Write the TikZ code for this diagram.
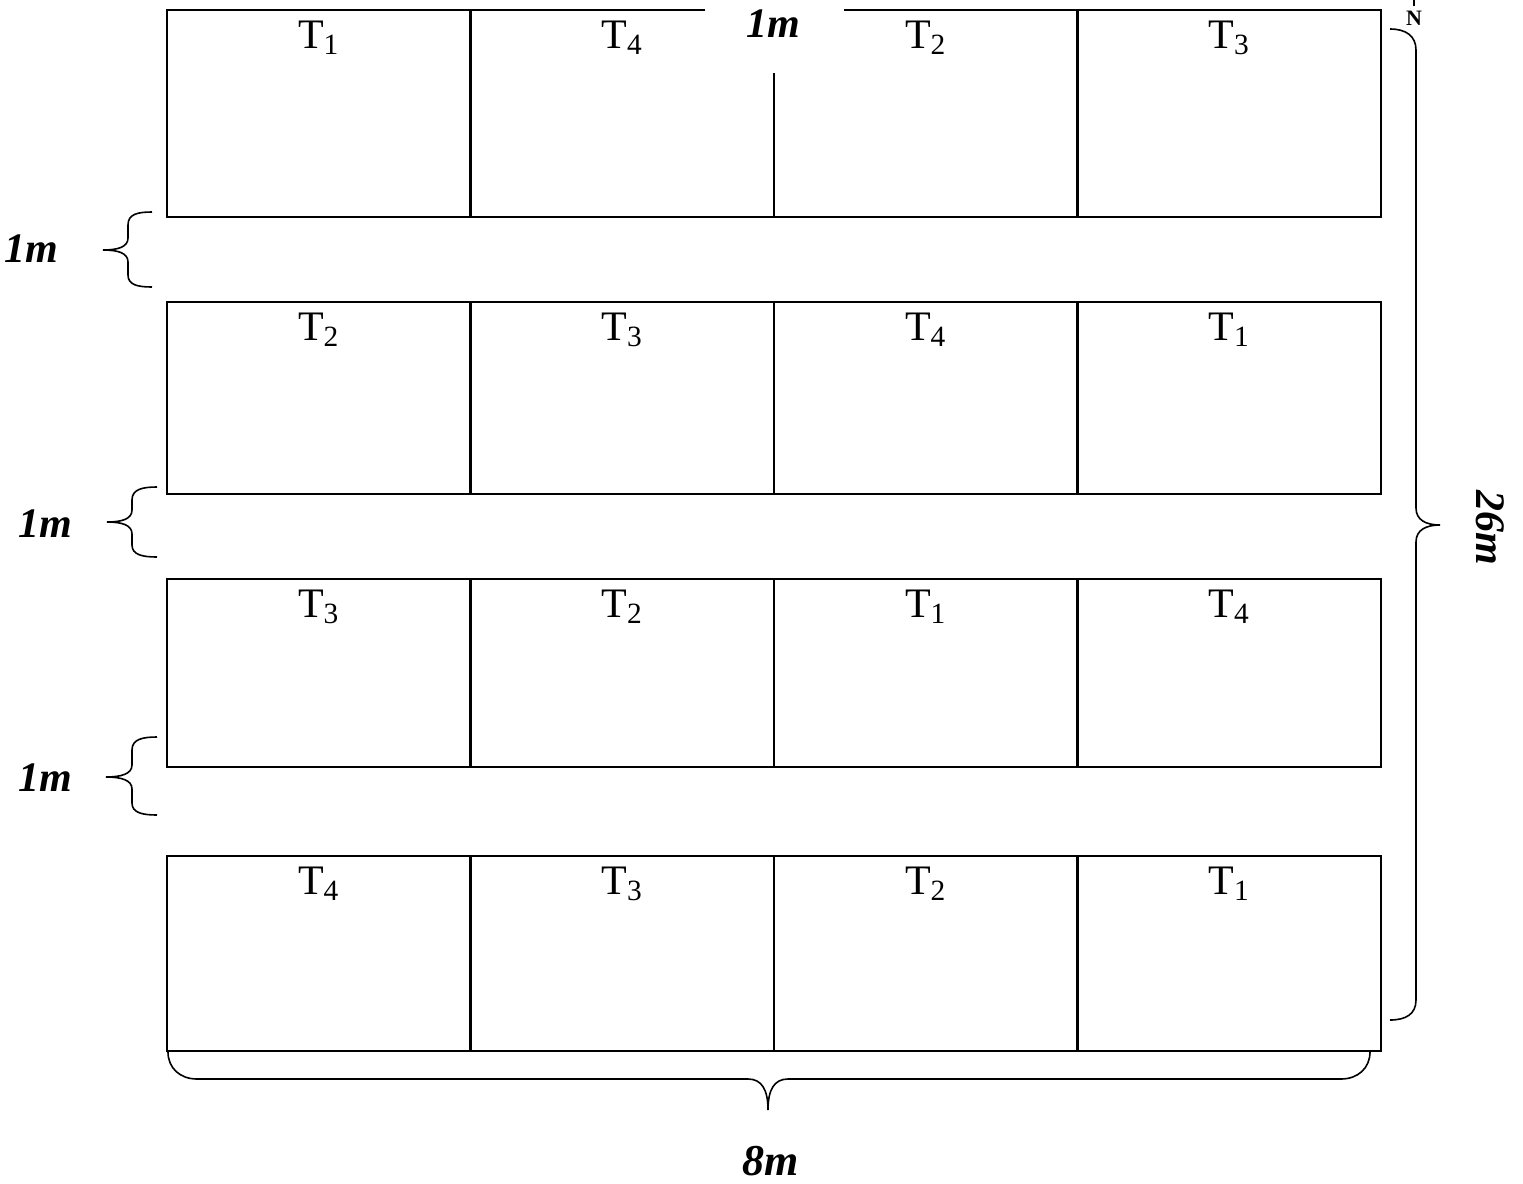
\documentclass[tikz,border=0pt]{standalone}
\usepackage{fontspec}
\setmainfont{Liberation Serif}
\begin{document}
\begin{tikzpicture}[x=0.5pt,y=-0.5pt,
  cell/.style={draw, line width=1.2pt, rectangle, minimum width=151.75pt, inner sep=0pt, outer sep=0pt},
  tlab/.style={font=\fontsize{21}{25}\selectfont, inner sep=0pt, anchor=base},
  dimlab/.style={font=\fontsize{21}{25}\selectfont\bfseries\itshape, inner sep=0pt},
  bracepath/.style={line width=0.8pt}]
\useasboundingbox (0,0) rectangle (1523,1184);
% plots
\foreach \r/\top/\bot/\labs in {1/10/217/{1,4,2,3}, 2/302/494/{2,3,4,1}, 3/579/767/{3,2,1,4}, 4/856/1051/{4,3,2,1}}{
  \foreach \t [count=\c] in \labs {
    \node[cell, minimum height={(\bot-\top)*0.5pt}] (r\r c\c) at ({167+(\c-0.5)*303.5},{(\top+\bot)/2}) {};
    \node[tlab] (t\r c\c) at ({167+(\c-0.5)*303.5},{\top+38}) {T\textsubscript{\t}};
  }
}
% top 1m label covering the border
\fill[white] (705,-2) rectangle (844,73);
\node[dimlab] (dtop) at (773,24) {1m};
% north mark
\draw[line width=0.6pt] (1414,0) -- (1414,6);
\node[font=\fontsize{11}{13}\selectfont\bfseries, inner sep=0pt] (north) at (1414,18) {N};
% left braces
\draw[bracepath] (152,212) .. controls (138,212) and (128,214) .. (128,225) -- (128,238) .. controls (128,247) and (118,250) .. (103,250) .. controls (118,250) and (128,253) .. (128,262) -- (128,275) .. controls (128,285) and (138,287) .. (152,287);
\draw[bracepath] (157,487) .. controls (143,487) and (132,489) .. (132,500) -- (132,510) .. controls (132,519) and (122,522) .. (107,522) .. controls (122,522) and (132,525) .. (132,534) -- (132,545) .. controls (132,555) and (143,557) .. (157,557);
\draw[bracepath] (157,737) .. controls (143,737) and (132,739) .. (132,750) -- (132,765) .. controls (132,774) and (121,777) .. (106,777) .. controls (121,777) and (132,780) .. (132,789) -- (132,803) .. controls (132,813) and (143,815) .. (157,815);
\node[dimlab] (d1) at (31,249) {1m};
\node[dimlab] (d2) at (45,524) {1m};
\node[dimlab] (d3) at (45,778) {1m};
% right brace
\draw[bracepath] (1390,29) .. controls (1406,29) and (1416,36) .. (1416,50) -- (1416,508) .. controls (1416,520) and (1426,525) .. (1440,525) .. controls (1426,525) and (1416,530) .. (1416,542) -- (1416,1000) .. controls (1416,1014) and (1406,1020) .. (1390,1020);
\node[dimlab, rotate=-90] (d26) at (1490,528) {26m};
% bottom brace
\draw[bracepath] (168,1052) .. controls (168,1068) and (180,1079) .. (197,1079) -- (748,1079) .. controls (762,1079) and (768,1090) .. (768,1110) .. controls (768,1090) and (774,1079) .. (788,1079) -- (1341,1079) .. controls (1358,1079) and (1370,1068) .. (1370,1052);
\node[dimlab, font=\fontsize{22}{26}\selectfont\bfseries\itshape] (d8) at (771,1161) {8m};
\end{tikzpicture}
\end{document}
